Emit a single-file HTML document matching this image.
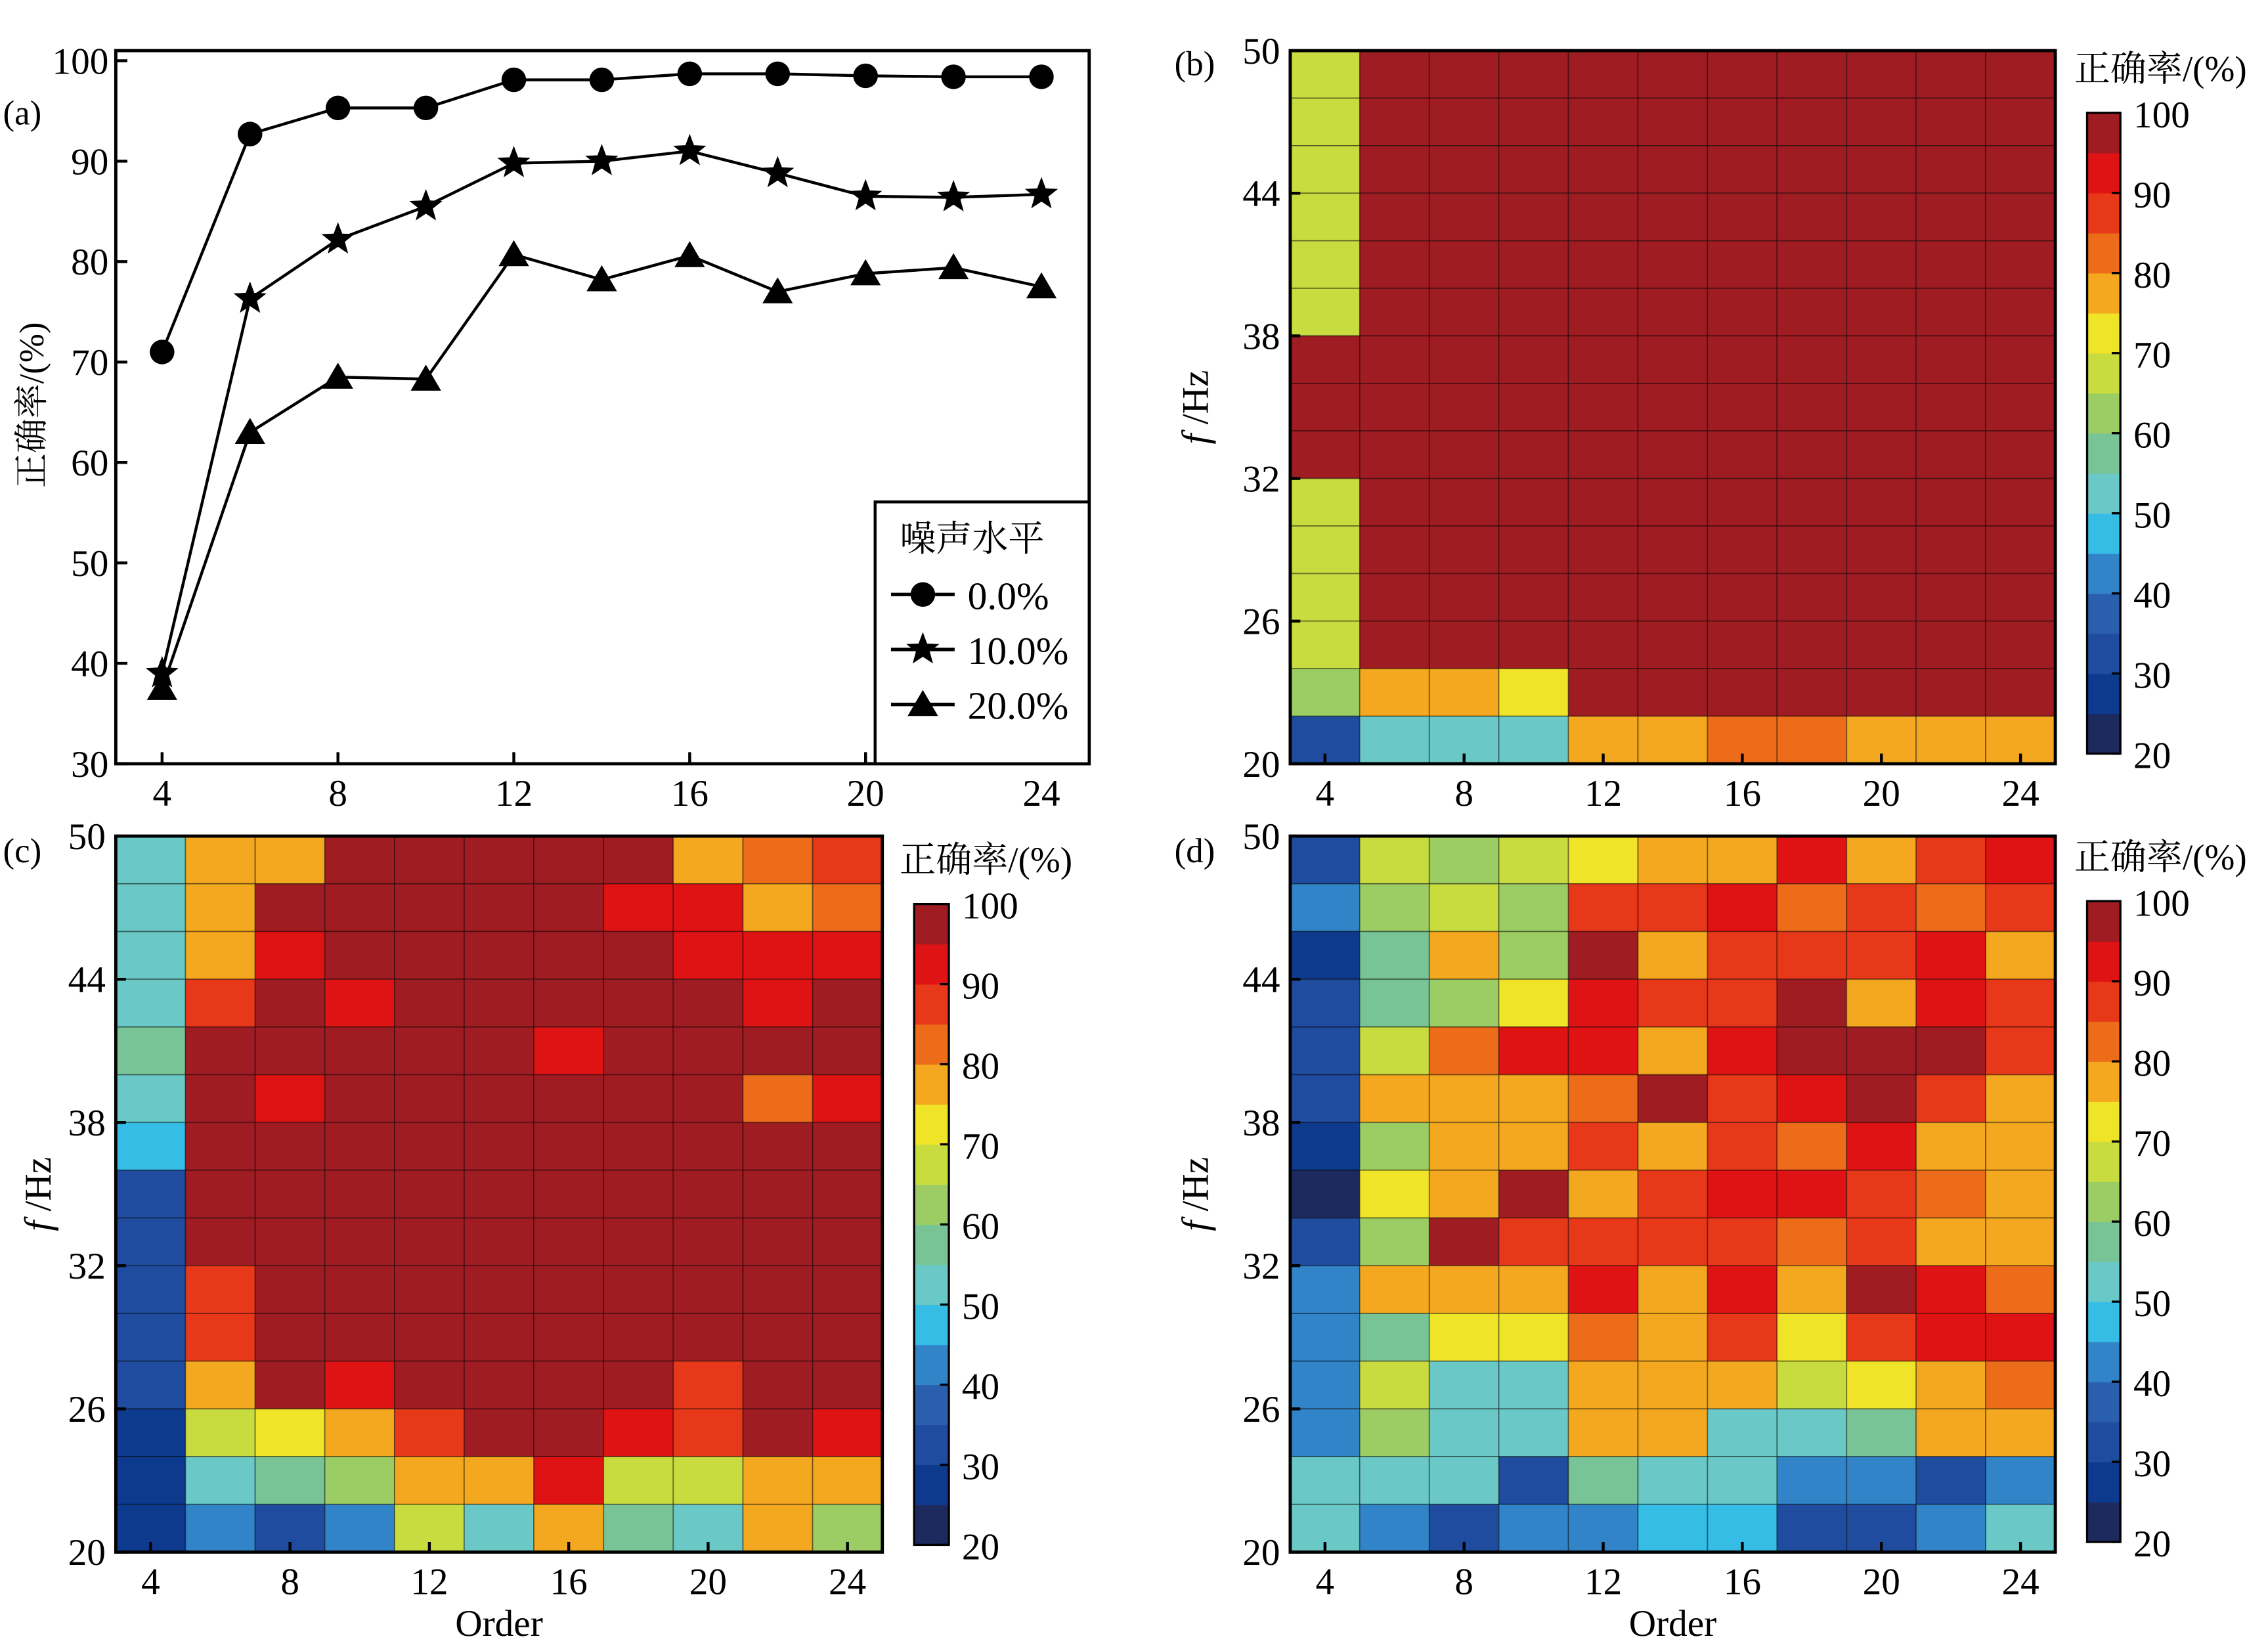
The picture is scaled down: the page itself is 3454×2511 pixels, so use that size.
<!DOCTYPE html>
<html><head><meta charset="utf-8"><style>
html,body{margin:0;padding:0;background:#fff;}
svg{display:block;}
text{font-family:"Liberation Serif","Noto Serif CJK SC",serif;fill:#000;}
</style></head><body>
<svg id="fig" xmlns="http://www.w3.org/2000/svg" width="3454" height="2511" viewBox="0 0 1568 1140"></svg>
<script>
// ---- Panel (a) data ----
const orders = [4,6,8,10,12,14,16,18,20,22,24];
const seriesNames = ['0.0%','10.0%','20.0%'];
const acc0 = [71,92.7,95.3,95.3,98.1,98.1,98.7,98.7,98.5,98.4,98.4];
const acc10 = [39,76.3,82.2,85.5,89.8,90,91,88.8,86.5,86.4,86.7];
const acc20 = [37.5,63,68.5,68.3,80.7,78.2,80.6,77,78.8,79.4,77.5];
const yTicksA = [30,40,50,60,70,80,90,100];
const xTicks = [4,8,12,16,20,24];
const fTicks = [20,26,32,38,44,50];
const cbTicks = [20,30,40,50,60,70,80,90,100];
// ---- heatmap data: rows from f=50 (top) down to f=20 (bottom), cols order 4..24 ----
const heatB = [
[68,98,98,98,98,98,98,98,98,98,98],
[68,98,98,98,98,98,98,98,98,98,98],
[68,98,98,98,98,98,98,98,98,98,98],
[68,98,98,98,98,98,98,98,98,98,98],
[68,98,98,98,98,98,98,98,98,98,98],
[68,98,98,98,98,98,98,98,98,98,98],
[98,98,98,98,98,98,98,98,98,98,98],
[98,98,98,98,98,98,98,98,98,98,98],
[98,98,98,98,98,98,98,98,98,98,98],
[68,98,98,98,98,98,98,98,98,98,98],
[68,98,98,98,98,98,98,98,98,98,98],
[68,98,98,98,98,98,98,98,98,98,98],
[68,98,98,98,98,98,98,98,98,98,98],
[63,78,78,73,98,98,98,98,98,98,98],
[33,53,53,53,78,78,83,83,78,78,78]];
const heatC = [
[53,78,78,98,98,98,98,98,78,83,88],
[53,78,98,98,98,98,98,93,93,78,83],
[53,78,93,98,98,98,98,98,93,93,93],
[53,88,98,93,98,98,98,98,98,93,98],
[58,98,98,98,98,98,93,98,98,98,98],
[53,98,93,98,98,98,98,98,98,83,93],
[48,98,98,98,98,98,98,98,98,98,98],
[33,98,98,98,98,98,98,98,98,98,98],
[33,98,98,98,98,98,98,98,98,98,98],
[33,88,98,98,98,98,98,98,98,98,98],
[33,88,98,98,98,98,98,98,98,98,98],
[33,78,98,93,98,98,98,98,88,98,98],
[28,68,73,78,88,98,98,93,88,98,93],
[28,53,58,63,78,78,93,68,68,78,78],
[28,43,33,43,68,53,78,58,53,78,63]];
const heatD = [
[33,68,63,68,73,78,78,93,78,88,93],
[43,63,68,63,88,88,93,83,88,83,88],
[28,58,78,63,98,78,88,88,88,93,78],
[33,58,63,73,93,88,88,98,78,93,88],
[33,68,83,93,93,78,93,98,98,98,88],
[33,78,78,78,83,98,88,93,98,88,78],
[28,63,78,78,88,78,88,83,93,78,78],
[23,73,78,98,78,88,93,93,88,83,78],
[33,63,98,88,88,88,88,83,88,78,78],
[43,78,78,78,93,78,93,78,98,93,83],
[43,58,73,73,83,78,88,73,88,93,93],
[43,68,53,53,78,78,78,68,73,78,83],
[43,63,53,53,78,78,53,53,58,78,78],
[53,53,53,33,58,53,53,43,43,33,43],
[53,43,33,43,43,48,48,33,33,43,53]];
const palette = ['#1d2a5e','#0e3a8e','#1f4c9e','#2a5fae','#3284c8','#36bde6','#6ac8c6','#78c496','#9ccc64','#c8dc40','#f0e428','#f3a81f','#ec6c1a','#e8381a','#df1313','#9e1c22'];
function colorOf(v){let i=Math.floor((v-20)/5);if(i<0)i=0;if(i>15)i=15;return palette[i];}

const NS='http://www.w3.org/2000/svg';
const svg=document.getElementById('fig');
function mk(tag,attrs,parent){const e=document.createElementNS(NS,tag);for(const k in attrs)e.setAttribute(k,attrs[k]);(parent||svg).appendChild(e);return e;}
function txt(s,x,y,size,anchor,parent){const t=mk('text',{x:x,y:y,'font-size':size,'text-anchor':anchor||'middle'},parent);t.textContent=s;return t;}

// ================= Panel (a) =================
const A={x0:80,x1:753,y0:35,y1:528};
const ax=o=>112+(o-4)/20*(720-112);
const ay=v=>528-(v-30)/70*(528-42);
const ga=mk('g',{});


const frameA=mk('rect',{x:A.x0,y:A.y0,width:A.x1-A.x0,height:A.y1-A.y0,fill:'none',stroke:'#000','stroke-width':2.2},ga);


yTicksA.forEach(v=>{
  mk('line',{x1:A.x0,x2:A.x0+8,y1:ay(v),y2:ay(v),stroke:'#000','stroke-width':2},ga);
  const t=txt(String(v),A.x0-5,ay(v)+9,26,'end',ga);
  
  
});
xTicks.forEach(v=>{
  mk('line',{x1:ax(v),x2:ax(v),y1:A.y1,y2:A.y1-8,stroke:'#000','stroke-width':2},ga);
  const t=txt(String(v),ax(v),557,26,'middle',ga);
  
  
});
const yl=txt('正确率/(%)',0,0,24,'middle',ga);
yl.setAttribute('transform','translate(30,280) rotate(-90)');


const la=txt('(a)',2,86,24,'start',ga);



function starPath(cx,cy,R){const r=R*0.42;let d='';for(let i=0;i<10;i++){const a=-Math.PI/2+i*Math.PI/5;const rr=i%2?r:R;d+=(i?'L':'M')+(cx+rr*Math.cos(a)).toFixed(2)+','+(cy+rr*Math.sin(a)).toFixed(2);}return d+'Z';}
function marker(kind,cx,cy,g){
  if(kind===0)return mk('circle',{cx:cx,cy:cy,r:8.5,fill:'#000'},g);
  if(kind===1)return mk('path',{d:starPath(cx,cy,12),fill:'#000'},g);
  return mk('path',{d:`M${cx},${cy-10}L${cx+10.5},${cy+8}L${cx-10.5},${cy+8}Z`,fill:'#000'},g);
}
[acc0,acc10,acc20].forEach((arr,si)=>{
  const g=mk('g',{},ga);
  
  
  const pts=arr.map((v,i)=>ax(orders[i])+','+ay(v)).join(' ');
  mk('polyline',{points:pts,fill:'none',stroke:'#000','stroke-width':2},g);
  arr.forEach((v,i)=>{
    const m=marker(si,ax(orders[i]),ay(v),g);
    
    
  });
});
// legend
const lg=mk('g',{},ga);


mk('rect',{x:605,y:347,width:148,height:181,fill:'#fff',stroke:'#000','stroke-width':2},lg);
txt('噪声水平',672,381,25,'middle',lg);
[411,449,487].forEach((y,i)=>{
  const e=mk('g',{},lg);
  
  
  mk('line',{x1:616,x2:660,y1:y,y2:y,stroke:'#000','stroke-width':2.4},e);
  marker(i,638,y,e);
  txt(seriesNames[i],669,y+10,27,'start',e);
});

// ================= Heatmaps =================
function heatmap(name,data,P,cb,label,labelPos,fxLabelX,showOrder){
  const g=mk('g',{});
  
  
  const nr=data.length,nc=data[0].length;
  const cw=(P.x1-P.x0)/nc,ch=(P.y1-P.y0)/nr;
  data.forEach((row,r)=>row.forEach((v,c)=>{
    const cell=mk('rect',{x:P.x0+c*cw,y:P.y0+r*ch,width:cw,height:ch,fill:colorOf(v),stroke:'rgba(0,0,0,0.4)','stroke-width':0.8},g);
    
    
  }));
  mk('rect',{x:P.x0,y:P.y0,width:P.x1-P.x0,height:P.y1-P.y0,fill:'none',stroke:'#000','stroke-width':2.2},g);
  const hx=o=>P.x0+cw/2+(o-4)/2*cw;
  const hy=f=>P.y1-(f-20)/30*(P.y1-P.y0);
  xTicks.forEach(v=>{
    mk('line',{x1:hx(v),x2:hx(v),y1:P.y1,y2:P.y1-7,stroke:'#000','stroke-width':2},g);
    const t=txt(String(v),hx(v),P.y1+29,26,'middle',g);
    
    
  });
  fTicks.forEach(v=>{
    mk('line',{x1:P.x0,x2:P.x0+7,y1:hy(v),y2:hy(v),stroke:'#000','stroke-width':2},g);
    const t=txt(String(v),P.x0-7,hy(v)+9,26,'end',g);
    
    
  });
  const fl=mk('text',{x:0,y:0,'font-size':26,'text-anchor':'middle',transform:`translate(${fxLabelX},${(P.y0+P.y1)/2}) rotate(-90)`},g);
  
  
  const fi=mk('tspan',{'font-style':'italic'},fl);fi.textContent='f';
  const fr=mk('tspan',{},fl);fr.textContent=' /Hz';
  const pl=txt(label,labelPos[0],labelPos[1],24,'start',g);
  
  
  if(showOrder){
    const ol=txt('Order',(P.x0+P.x1)/2,1131,26,'middle',g);
    
    
  }
  // colorbar
  const cg=mk('g',{},g);
  
  
  const cy=v=>cb.y1-(v-20)/80*(cb.y1-cb.y0);
  palette.forEach((col,i)=>{
    mk('rect',{x:cb.x0,y:cy(25+i*5),width:cb.x1-cb.x0,height:cy(20+i*5)-cy(25+i*5)+0.3,fill:col},cg);
  });
  mk('rect',{x:cb.x0,y:cb.y0,width:cb.x1-cb.x0,height:cb.y1-cb.y0,fill:'none',stroke:'#000','stroke-width':1.5},cg);
  cbTicks.forEach(v=>{
    mk('line',{x1:cb.x1-6,x2:cb.x1,y1:cy(v),y2:cy(v),stroke:'#000','stroke-width':1.5},cg);
    const t=txt(String(v),cb.x1+9,cy(v)+10,26,'start',cg);
    
    
  });
  const ct=txt('正确率/(%)',cb.tx,cb.ty,25,'start',cg);
  
  
}
heatmap('heatmap-panel-b',heatB,{x0:892,x1:1421,y0:35,y1:528},{x0:1443,x1:1466,y0:78,y1:521,tx:1434,ty:56},'(b)',[812,52],835,false);
heatmap('heatmap-panel-c',heatC,{x0:80,x1:610,y0:578,y1:1073},{x0:632,x1:656,y0:625,y1:1068,tx:622,ty:603},'(c)',[2,596],35,true);
heatmap('heatmap-panel-d',heatD,{x0:892,x1:1421,y0:578,y1:1073},{x0:1443,x1:1466,y0:623,y1:1066,tx:1434,ty:601},'(d)',[812,596],835,true);
</script>
</body></html>
